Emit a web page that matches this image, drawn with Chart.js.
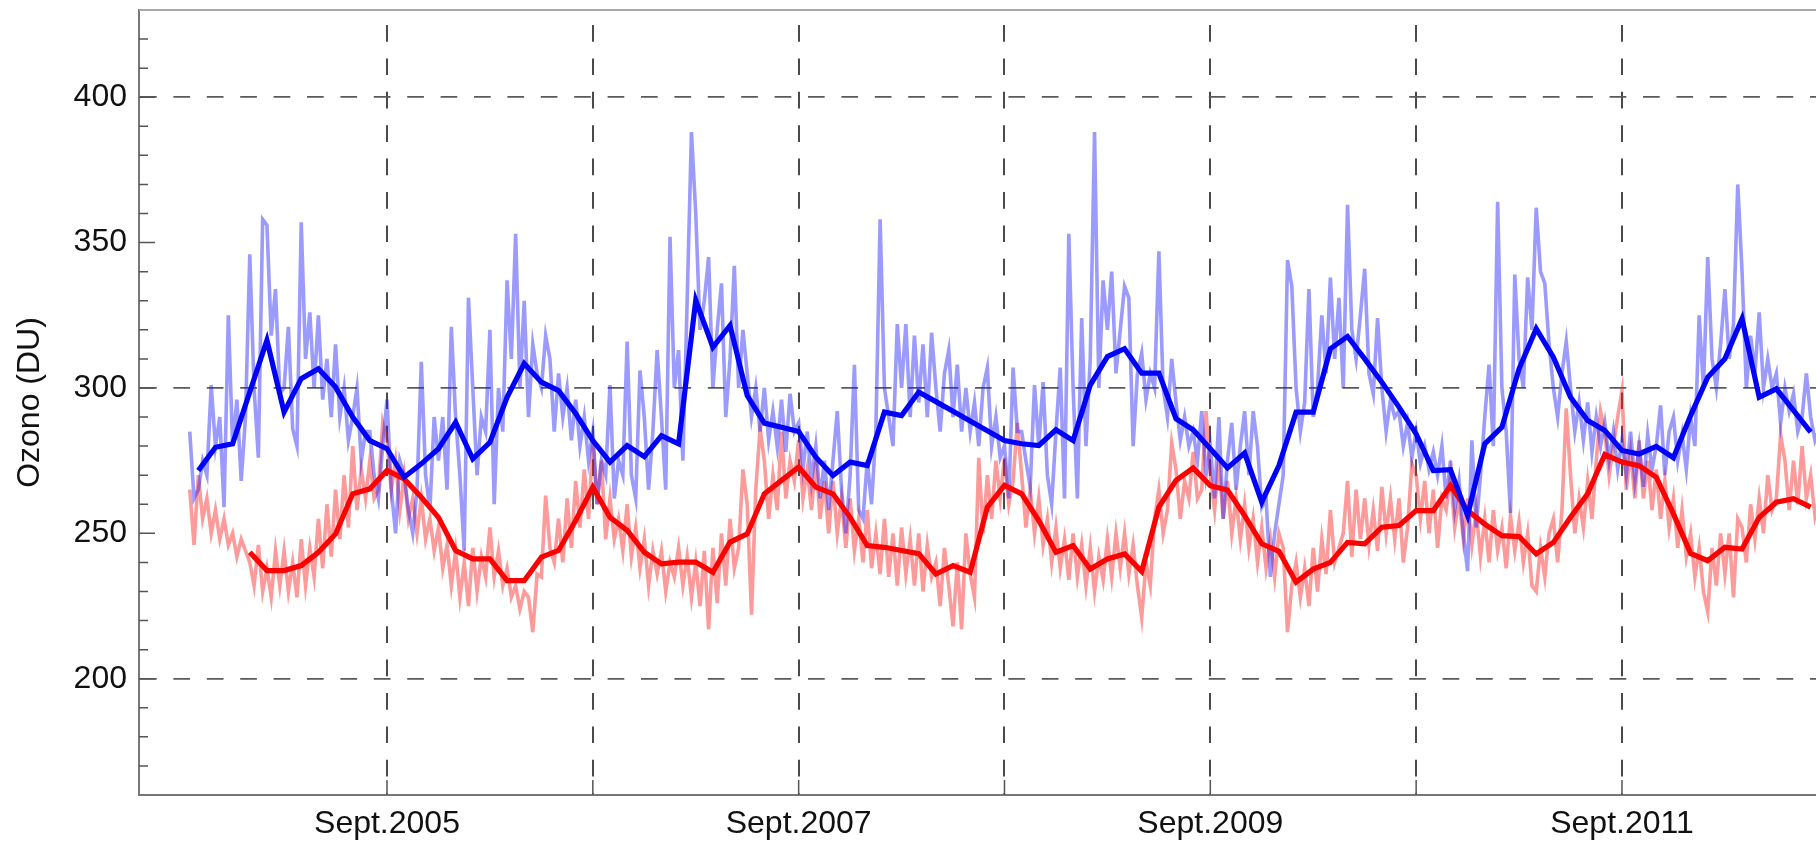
<!DOCTYPE html>
<html>
<head>
<meta charset="utf-8">
<title>Ozono (DU)</title>
<script src="https://cdn.jsdelivr.net/npm/chart.js@4.4.1/dist/chart.umd.min.js"></script>
<style>
  html, body { margin: 0; padding: 0; background: #fff; overflow: hidden; }
  #wrap { position: relative; width: 1816px; height: 847px; }
</style>
</head>
<body>
<div id="wrap"><canvas id="ozoneChart"></canvas></div>
<script>
// Monthly means: blue from October 2004, red from January 2005
const blueMonthlyStart = 2004.75;
const redMonthlyStart = 2005.0;

const blueMonthly = [
  271.6, 279.6, 280.8,
  298.6, 316.4, 291.7, 303.2, 306.6, 300.3, 290.0, 281.9, 279.1, 269.3, 273.9, 279.1,
  288.2, 275.6, 281.3, 296.8, 308.4, 302.0, 299.1, 291.2, 281.9, 274.5, 280.2, 276.4,
  283.6, 280.8, 330.1, 314.0, 321.5, 297.4, 287.9, 286.5, 285.0, 276.2, 269.9, 274.5,
  273.3, 291.7, 290.5, 298.6, 295.3, 292.0, 288.6, 285.3, 281.9, 280.8, 280.2, 285.6,
  281.9, 301.0, 310.8, 313.5, 305.1, 305.1, 289.4, 285.6, 279.1, 272.5, 277.6, 260.7,
  273.3, 291.7, 291.7, 313.5, 317.7, 310.0, 302.0, 293.4, 284.2, 271.6, 271.9, 256.1,
  280.8, 286.5, 306.6, 320.4, 310.6, 296.8, 288.8, 285.4, 278.5, 277.3, 279.9, 276.0,
  290.5, 303.7, 310.0, 323.8, 296.8, 299.7, 292.3, 284.8
];

const redMonthly = [
  243.5, 237.2, 237.2, 238.9, 243.5, 249.8, 263.6, 265.3, 271.6, 268.7, 262.4, 255.5,
  244.1, 241.2, 241.2, 233.7, 233.7, 241.8, 244.1, 254.4, 265.9, 255.5, 251.0, 243.5,
  239.5, 240.1, 240.1, 236.6, 247.0, 249.8, 263.6, 268.2, 272.8, 265.9, 263.6, 255.5,
  245.8, 245.2, 244.1, 243.0, 236.0, 238.9, 236.6, 259.0, 266.5, 263.6, 254.4, 243.5,
  245.8, 237.7, 241.2, 242.9, 236.9, 259.0, 268.2, 272.5, 266.4, 264.9, 256.1, 246.4,
  243.8, 233.2, 237.7, 240.0, 246.9, 246.4, 252.1, 252.7, 257.8, 257.8, 266.4, 257.8,
  253.2, 249.2, 248.9, 242.9, 246.9, 255.5, 263.6, 277.1, 274.5, 273.3, 269.3, 256.7,
  243.1, 240.6, 245.2, 244.6, 255.5, 260.7, 261.9, 259.0
];

// Weekly values, four per month, from mid-September 2004
const weeklyStart = 2004.75 - 1 / 12 + 2 / 48;

const blueWeekly = [
  285, 262,
  265, 275, 270, 301, 280, 290, 259, 325, 280, 296, 268, 290,
  346, 300, 276, 358, 356, 318, 334, 298, 300, 321, 286, 280, 357, 310, 326, 300,
  325, 296, 310, 290, 315, 290, 300, 282, 290, 300, 275, 285, 285, 270, 262, 280,
  296, 265, 250, 275, 270, 258, 250, 265, 309, 270, 258, 290, 275, 290, 265, 321,
  290, 270, 244, 331, 300, 270, 290, 285, 320, 260, 300, 285, 337, 310, 353, 300,
  330, 290, 315, 305, 300, 318, 310, 285, 305, 290, 300, 282, 296, 280, 290, 275,
  285, 260, 275, 270, 301, 262, 275, 270, 316, 270, 262, 306, 290, 265, 285, 313,
  290, 265, 352, 300, 313, 275, 330, 388, 360, 320, 330, 345, 300, 320, 336, 290,
  310, 342, 300, 320, 305, 290, 300, 285, 300, 282, 292, 280, 296, 278, 298, 285,
  288, 272, 285, 268, 280, 262, 275, 258, 275, 292, 265, 250, 270, 308, 258, 255,
  275, 260, 285, 358, 300, 290, 280, 322, 300, 322, 290, 318, 295, 315, 290, 319,
  300, 285, 305, 313, 290, 308, 285, 300, 285, 295, 280, 300, 307, 280, 290, 276,
  280, 262, 307, 285, 285, 275, 266, 301, 280, 302, 270, 260, 285, 307, 262, 353,
  300, 262, 324, 280, 310, 388, 300, 337, 320, 340, 305, 320, 335, 331, 280, 305,
  312, 296, 305, 300, 347, 300, 290, 310, 295, 282, 290, 280, 285, 275, 292, 270,
  280, 262, 290, 255, 275, 288, 265, 280, 292, 270, 292, 280, 259, 262, 235, 250,
  260, 270, 344, 335, 300, 285, 295, 334, 290, 300, 325, 305, 338, 310, 331, 300,
  363, 320, 310, 325, 341, 305, 298, 324, 300, 285, 296, 290, 292, 280, 288, 276,
  285, 274, 280, 272, 278, 270, 280, 262, 275, 258, 268, 250, 237, 282, 252, 270,
  290, 308, 280, 364, 300, 285, 257, 339, 310, 300, 338, 320, 362, 340, 336, 315,
  300, 290, 305, 316, 300, 285, 295, 282, 295, 278, 290, 280, 288, 275, 285, 272,
  282, 270, 285, 268, 280, 266, 284, 272, 280, 294, 270, 285, 290, 275, 284, 272,
  290, 280, 325, 300, 345, 310, 300, 315, 334, 310, 322, 370, 340, 300, 318, 305,
  326, 300, 310, 300, 305, 288, 300, 292, 298, 285, 290, 305, 290, 282, 286, 295
];

const redWeekly = [
  265, 246,
  270, 255, 262, 250, 258, 248, 255, 246, 250, 242, 248, 244,
  240, 232, 246, 230, 238, 228, 244, 232, 244, 230, 240, 228, 248, 232, 245, 235,
  255, 238, 260, 242, 265, 248, 270, 252, 280, 258, 272, 262, 275, 262, 265, 288,
  282, 265, 275, 258, 270, 255, 262, 250, 262, 248, 255, 244, 252, 238, 246, 232,
  244, 228, 240, 225, 245, 230, 242, 235, 252, 235, 244, 232, 238, 228, 232, 224,
  230, 228, 216, 236, 235, 263, 245, 240, 255, 240, 262, 245, 268, 252, 272, 255,
  282, 260, 275, 248, 262, 248, 255, 244, 260, 242, 252, 238, 248, 232, 244, 236,
  244, 230, 240, 235, 245, 232, 242, 228, 240, 225, 244, 217, 245, 226, 250, 232,
  255, 238, 245, 272, 260, 222, 265, 286, 275, 255, 270, 258, 285, 262, 275, 268,
  282, 262, 272, 258, 275, 255, 268, 250, 268, 250, 262, 245, 262, 244, 255, 240,
  258, 238, 250, 236, 255, 235, 250, 232, 252, 236, 248, 232, 250, 230, 246, 235,
  240, 225, 245, 232, 218, 240, 217, 250, 236, 228, 276, 250, 270, 255, 275, 262,
  276, 260, 268, 288, 270, 252, 265, 250, 262, 246, 255, 240, 252, 238, 248, 234,
  250, 235, 246, 232, 245, 230, 242, 234, 248, 235, 250, 238, 250, 236, 246, 232,
  221, 240, 232, 255, 265, 250, 258, 281, 272, 255, 268, 262, 278, 262, 265, 292,
  270, 258, 275, 255, 268, 250, 262, 248, 260, 245, 255, 240, 252, 238, 248, 235,
  250, 245, 216, 232, 240, 228, 238, 225, 245, 230, 248, 236, 258, 240, 245, 250,
  268, 242, 265, 248, 262, 246, 258, 244, 266, 250, 262, 248, 262, 240, 252, 274,
  270, 255, 268, 250, 265, 245, 262, 258, 270, 252, 262, 248, 262, 246, 258, 242,
  255, 240, 258, 244, 252, 238, 256, 244, 254, 240, 250, 232, 230, 245, 235, 250,
  255, 240, 258, 293, 270, 250, 262, 252, 268, 255, 275, 292, 285, 270, 280, 290,
  299, 265, 278, 262, 282, 262, 275, 258, 272, 255, 268, 252, 262, 245, 258, 242,
  250, 235, 245, 230, 223, 245, 232, 250, 236, 250, 228, 255, 252, 240, 260, 248,
  262, 250, 270, 258, 262, 284, 275, 258, 275, 260, 280, 262, 270, 256, 262, 268
];

// Grid lines fall on September of each year, labels on odd years only
const septYears = [2005, 2006, 2007, 2008, 2009, 2010, 2011];
const labelYears = [2005, 2007, 2009, 2011];
const yGridValues = [200, 300, 400];

const SEPT = 8 / 12;
const xMin = 2004.4618;
const xMax = 2012.6093;

function toPoints(values, start, step) {
  return values.map((v, i) => ({ x: start + i * step, y: v }));
}

const tickFont = { family: "'Liberation Sans', Arial, sans-serif", size: 32 };

// Top frame line plus the inward-pointing tick marks on the left and bottom axes
const frameTicks = {
  id: 'frameTicks',
  afterDraw(chart) {
    const { ctx, chartArea: a, scales: { x, y } } = chart;
    ctx.save();
    ctx.strokeStyle = '#a8a8a8';
    ctx.lineWidth = 2;
    ctx.beginPath();
    ctx.moveTo(a.left, a.top);
    ctx.lineTo(a.right, a.top);
    ctx.stroke();

    ctx.strokeStyle = '#555';
    ctx.lineWidth = 1.5;
    ctx.beginPath();
    for (let v = 170; v < 430; v += 10) {
      const py = y.getPixelForValue(v);
      const len = v % 50 === 0 ? 16 : 9;
      ctx.moveTo(a.left, py);
      ctx.lineTo(a.left + len, py);
    }
    septYears.forEach(yr => {
      const px = x.getPixelForValue(yr + SEPT);
      ctx.moveTo(px, a.bottom);
      ctx.lineTo(px, a.bottom - 15);
    });
    ctx.stroke();
    ctx.restore();
  }
};

function createOzoneChart() {
  const ctx = document.getElementById('ozoneChart').getContext('2d');
  return new Chart(ctx, {
    type: 'line',
    data: {
      datasets: [{
        data: toPoints(blueMonthly, blueMonthlyStart, 1 / 12),
        borderColor: '#0000ff',
        borderWidth: 5.2
      }, {
        data: toPoints(redMonthly, redMonthlyStart, 1 / 12),
        borderColor: '#ff0000',
        borderWidth: 5.2
      }, {
        data: toPoints(blueWeekly, weeklyStart, 1 / 48),
        borderColor: 'rgba(30, 30, 255, 0.45)',
        borderWidth: 3.6
      }, {
        data: toPoints(redWeekly, weeklyStart, 1 / 48),
        borderColor: 'rgba(255, 30, 30, 0.45)',
        borderWidth: 3.6
      }]
    },
    options: {
      responsive: true,
      maintainAspectRatio: false,
      animation: false,
      events: [],
      layout: { padding: { left: 10.8, top: 10, right: 0, bottom: 0 } },
      elements: {
        point: { radius: 0 },
        line: { tension: 0, borderJoinStyle: 'miter', borderCapStyle: 'butt' }
      },
      plugins: {
        legend: { display: false },
        tooltip: { enabled: false }
      },
      scales: {
        x: {
          type: 'linear',
          min: xMin,
          max: xMax,
          afterBuildTicks: s => { s.ticks = septYears.map(yr => ({ value: yr + SEPT })); },
          afterFit: s => { s.height = 52; s.paddingLeft = 0; s.paddingRight = 0; },
          ticks: {
            autoSkip: false,
            maxRotation: 0,
            padding: 10,
            color: '#111',
            font: tickFont,
            callback: v => {
              const yr = Math.round(v - SEPT);
              return labelYears.includes(yr) ? 'Sept.' + yr : '';
            }
          },
          grid: { color: '#4a4a4a', lineWidth: 2, drawTicks: false },
          border: { color: '#777', width: 2, dash: [16.7, 16.7], dashOffset: 18.4 }
        },
        y: {
          min: 160,
          max: 430,
          afterFit: s => { s.width = 128.2; s.paddingTop = 0; s.paddingBottom = 0; },
          ticks: {
            stepSize: 10,
            autoSkip: false,
            padding: 12,
            color: '#111',
            font: tickFont,
            callback: v => (v % 50 === 0 ? String(v) : '')
          },
          grid: {
            color: '#5a5a5a',
            lineWidth: c => (c.tick && yGridValues.includes(c.tick.value) ? 1.8 : 0),
            drawTicks: false
          },
          border: { color: '#777', width: 2, dash: [16.7, 16.7], dashOffset: 0 },
          title: {
            display: true,
            text: 'Ozono (DU)',
            color: '#111',
            font: tickFont,
            padding: 0
          }
        }
      }
    },
    plugins: [frameTicks]
  });
}

document.addEventListener('DOMContentLoaded', createOzoneChart);
</script>
</body>
</html>
